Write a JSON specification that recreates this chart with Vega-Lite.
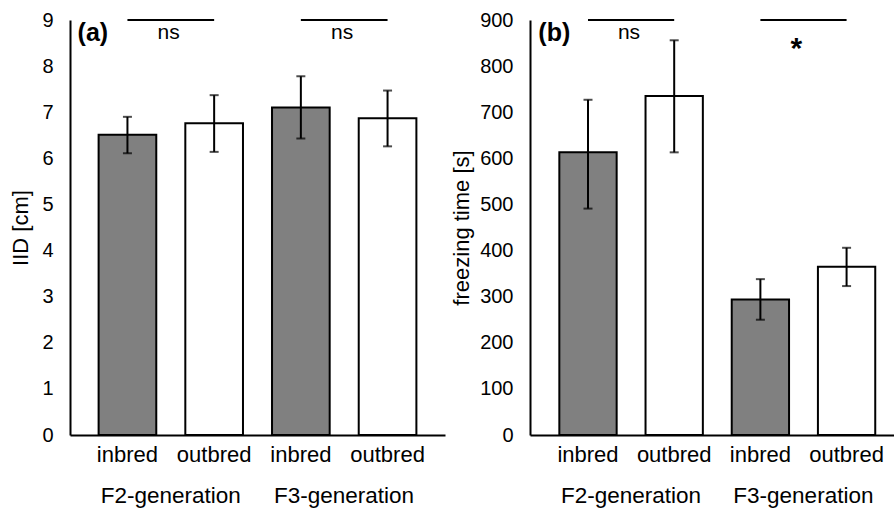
{
  "$schema": "https://vega.github.io/schema/vega-lite/v6.json",
  "padding": {"left": 9, "top": 10, "right": 0, "bottom": 0},
  "background": "white",
  "spacing": 5,
  "config": {
    "font": "Liberation Sans",
    "view": {"stroke": null},
    "axis": {
      "domainColor": "black",
      "domainWidth": 2,
      "ticks": false,
      "tickSize": 0,
      "grid": false,
      "labelColor": "black",
      "titleColor": "black",
      "labelFont": "Liberation Sans",
      "titleFont": "Liberation Sans",
      "titleFontWeight": "normal"
    }
  },
  "datasets": {
    "iid": [
      {"key": "F2 inbred", "type": "inbred", "value": 6.51, "lo": 6.11, "hi": 6.9},
      {"key": "F2 outbred", "type": "outbred", "value": 6.76, "lo": 6.14, "hi": 7.37},
      {"key": "F3 inbred", "type": "inbred", "value": 7.1, "lo": 6.43, "hi": 7.78},
      {"key": "F3 outbred", "type": "outbred", "value": 6.87, "lo": 6.26, "hi": 7.47}
    ],
    "freeze": [
      {"key": "F2 inbred", "type": "inbred", "value": 613, "lo": 491, "hi": 727},
      {"key": "F2 outbred", "type": "outbred", "value": 735, "lo": 613, "hi": 856},
      {"key": "F3 inbred", "type": "inbred", "value": 294, "lo": 250, "hi": 338},
      {"key": "F3 outbred", "type": "outbred", "value": 365, "lo": 323, "hi": 406}
    ],
    "sig_a": [
      {"from": "F2 inbred", "to": "F2 outbred", "y": 9, "label": "ns", "group": "F2-generation"},
      {"from": "F3 inbred", "to": "F3 outbred", "y": 9, "label": "ns", "group": "F3-generation"}
    ],
    "sig_b": [
      {"from": "F2 inbred", "to": "F2 outbred", "y": 900, "label": "ns", "group": "F2-generation"},
      {"from": "F3 inbred", "to": "F3 outbred", "y": 900, "label": "*", "group": "F3-generation"}
    ],
    "panel_a": [{"label": "(a)", "at": "F2 inbred", "y": 9}],
    "panel_b": [{"label": "(b)", "at": "F2 inbred", "y": 900}]
  },
  "hconcat": [
    {
      "width": 375,
      "height": 415,
      "layer": [
        {
          "data": {"name": "iid"},
          "mark": {"type": "bar", "stroke": "black", "strokeWidth": 2},
          "encoding": {
            "x": {"field": "key", "type": "nominal", "title": null,
              "scale": {"domain": ["F2 inbred", "F2 outbred", "F3 inbred", "F3 outbred"], "paddingInner": 0.335, "paddingOuter": 0.33},
              "axis": {"labelAngle": 0, "labelFontSize": 22, "labelPadding": 9, "labelExpr": "split(datum.value, ' ')[1]"}},
            "y": {"field": "value", "type": "quantitative", "title": "IID [cm]",
              "scale": {"domain": [0, 9], "nice": false},
              "axis": {"values": [0, 1, 2, 3, 4, 5, 6, 7, 8, 9], "labelFontSize": 20, "labelPadding": 17, "titleFontSize": 22, "titlePadding": 9}},
            "fill": {"field": "type", "type": "nominal", "legend": null,
              "scale": {"domain": ["inbred", "outbred"], "range": ["#808080", "#ffffff"]}}
          }
        },
        {
          "data": {"name": "iid"},
          "mark": {"type": "rule", "color": "black", "strokeWidth": 2},
          "encoding": {
            "x": {"field": "key", "type": "nominal"},
            "y": {"field": "lo", "type": "quantitative"},
            "y2": {"field": "hi"}
          }
        },
        {
          "data": {"name": "iid"},
          "mark": {"type": "tick", "color": "black", "size": 9, "thickness": 2},
          "encoding": {
            "x": {"field": "key", "type": "nominal"},
            "y": {"field": "lo", "type": "quantitative"}
          }
        },
        {
          "data": {"name": "iid"},
          "mark": {"type": "tick", "color": "black", "size": 9, "thickness": 2},
          "encoding": {
            "x": {"field": "key", "type": "nominal"},
            "y": {"field": "hi", "type": "quantitative"}
          }
        },
        {
          "data": {"name": "sig_a"},
          "mark": {"type": "rule", "color": "black", "strokeWidth": 2},
          "encoding": {
            "x": {"field": "from", "type": "nominal"},
            "x2": {"field": "to"},
            "y": {"field": "y", "type": "quantitative"}
          }
        },
        {
          "data": {"name": "sig_a"},
          "mark": {"type": "text", "fontSize": 21, "baseline": "middle", "dy": 13, "dx": -2, "color": "black"},
          "encoding": {
            "x": {"field": "from", "type": "nominal", "bandPosition": 1.25},
            "y": {"field": "y", "type": "quantitative"},
            "text": {"field": "label"}
          }
        },
        {
          "data": {"name": "sig_a"},
          "mark": {"type": "text", "fontSize": 22.5, "baseline": "middle", "color": "black"},
          "encoding": {
            "x": {"field": "from", "type": "nominal", "bandPosition": 1.25},
            "y": {"datum": -1.33, "type": "quantitative"},
            "text": {"field": "group"}
          }
        },
        {
          "data": {"name": "panel_a"},
          "mark": {"type": "text", "fontSize": 25, "fontWeight": "bold", "align": "left", "baseline": "middle", "dx": -21, "dy": 13, "color": "black"},
          "encoding": {
            "x": {"field": "at", "type": "nominal", "bandPosition": 0},
            "y": {"field": "y", "type": "quantitative"},
            "text": {"field": "label"}
          }
        }
      ]
    },
    {
      "width": 364,
      "height": 415,
      "layer": [
        {
          "data": {"name": "freeze"},
          "mark": {"type": "bar", "stroke": "black", "strokeWidth": 2},
          "encoding": {
            "x": {"field": "key", "type": "nominal", "title": null,
              "scale": {"domain": ["F2 inbred", "F2 outbred", "F3 inbred", "F3 outbred"], "paddingInner": 0.335, "paddingOuter": 0.279, "align": 0.61},
              "axis": {"labelAngle": 0, "labelFontSize": 22, "labelPadding": 9, "labelExpr": "split(datum.value, ' ')[1]"}},
            "y": {"field": "value", "type": "quantitative", "title": "freezing time [s]",
              "scale": {"domain": [0, 900], "nice": false},
              "axis": {"values": [0, 100, 200, 300, 400, 500, 600, 700, 800, 900], "labelFontSize": 20, "labelPadding": 17, "titleFontSize": 22, "titlePadding": 6}},
            "fill": {"field": "type", "type": "nominal", "legend": null,
              "scale": {"domain": ["inbred", "outbred"], "range": ["#808080", "#ffffff"]}}
          }
        },
        {
          "data": {"name": "freeze"},
          "mark": {"type": "rule", "color": "black", "strokeWidth": 2},
          "encoding": {
            "x": {"field": "key", "type": "nominal"},
            "y": {"field": "lo", "type": "quantitative"},
            "y2": {"field": "hi"}
          }
        },
        {
          "data": {"name": "freeze"},
          "mark": {"type": "tick", "color": "black", "size": 9, "thickness": 2},
          "encoding": {
            "x": {"field": "key", "type": "nominal"},
            "y": {"field": "lo", "type": "quantitative"}
          }
        },
        {
          "data": {"name": "freeze"},
          "mark": {"type": "tick", "color": "black", "size": 9, "thickness": 2},
          "encoding": {
            "x": {"field": "key", "type": "nominal"},
            "y": {"field": "hi", "type": "quantitative"}
          }
        },
        {
          "data": {"name": "sig_b"},
          "mark": {"type": "rule", "color": "black", "strokeWidth": 2},
          "encoding": {
            "x": {"field": "from", "type": "nominal"},
            "x2": {"field": "to"},
            "y": {"field": "y", "type": "quantitative"}
          }
        },
        {
          "data": {"name": "sig_b"},
          "transform": [{"filter": "datum.label == 'ns'"}],
          "mark": {"type": "text", "fontSize": 21, "baseline": "middle", "dy": 13, "dx": -2, "color": "black"},
          "encoding": {
            "x": {"field": "from", "type": "nominal", "bandPosition": 1.25},
            "y": {"field": "y", "type": "quantitative"},
            "text": {"field": "label"}
          }
        },
        {
          "data": {"name": "sig_b"},
          "transform": [{"filter": "datum.label == '*'"}],
          "mark": {"type": "text", "fontSize": 30, "fontWeight": "bold", "baseline": "middle", "dy": 29, "dx": -7, "color": "black"},
          "encoding": {
            "x": {"field": "from", "type": "nominal", "bandPosition": 1.25},
            "y": {"field": "y", "type": "quantitative"},
            "text": {"field": "label"}
          }
        },
        {
          "data": {"name": "sig_b"},
          "mark": {"type": "text", "fontSize": 22.5, "baseline": "middle", "color": "black"},
          "encoding": {
            "x": {"field": "from", "type": "nominal", "bandPosition": 1.25},
            "y": {"datum": -133, "type": "quantitative"},
            "text": {"field": "group"}
          }
        },
        {
          "data": {"name": "panel_b"},
          "mark": {"type": "text", "fontSize": 25, "fontWeight": "bold", "align": "left", "baseline": "middle", "dx": -21, "dy": 13, "color": "black"},
          "encoding": {
            "x": {"field": "at", "type": "nominal", "bandPosition": 0},
            "y": {"field": "y", "type": "quantitative"},
            "text": {"field": "label"}
          }
        }
      ]
    }
  ]
}
